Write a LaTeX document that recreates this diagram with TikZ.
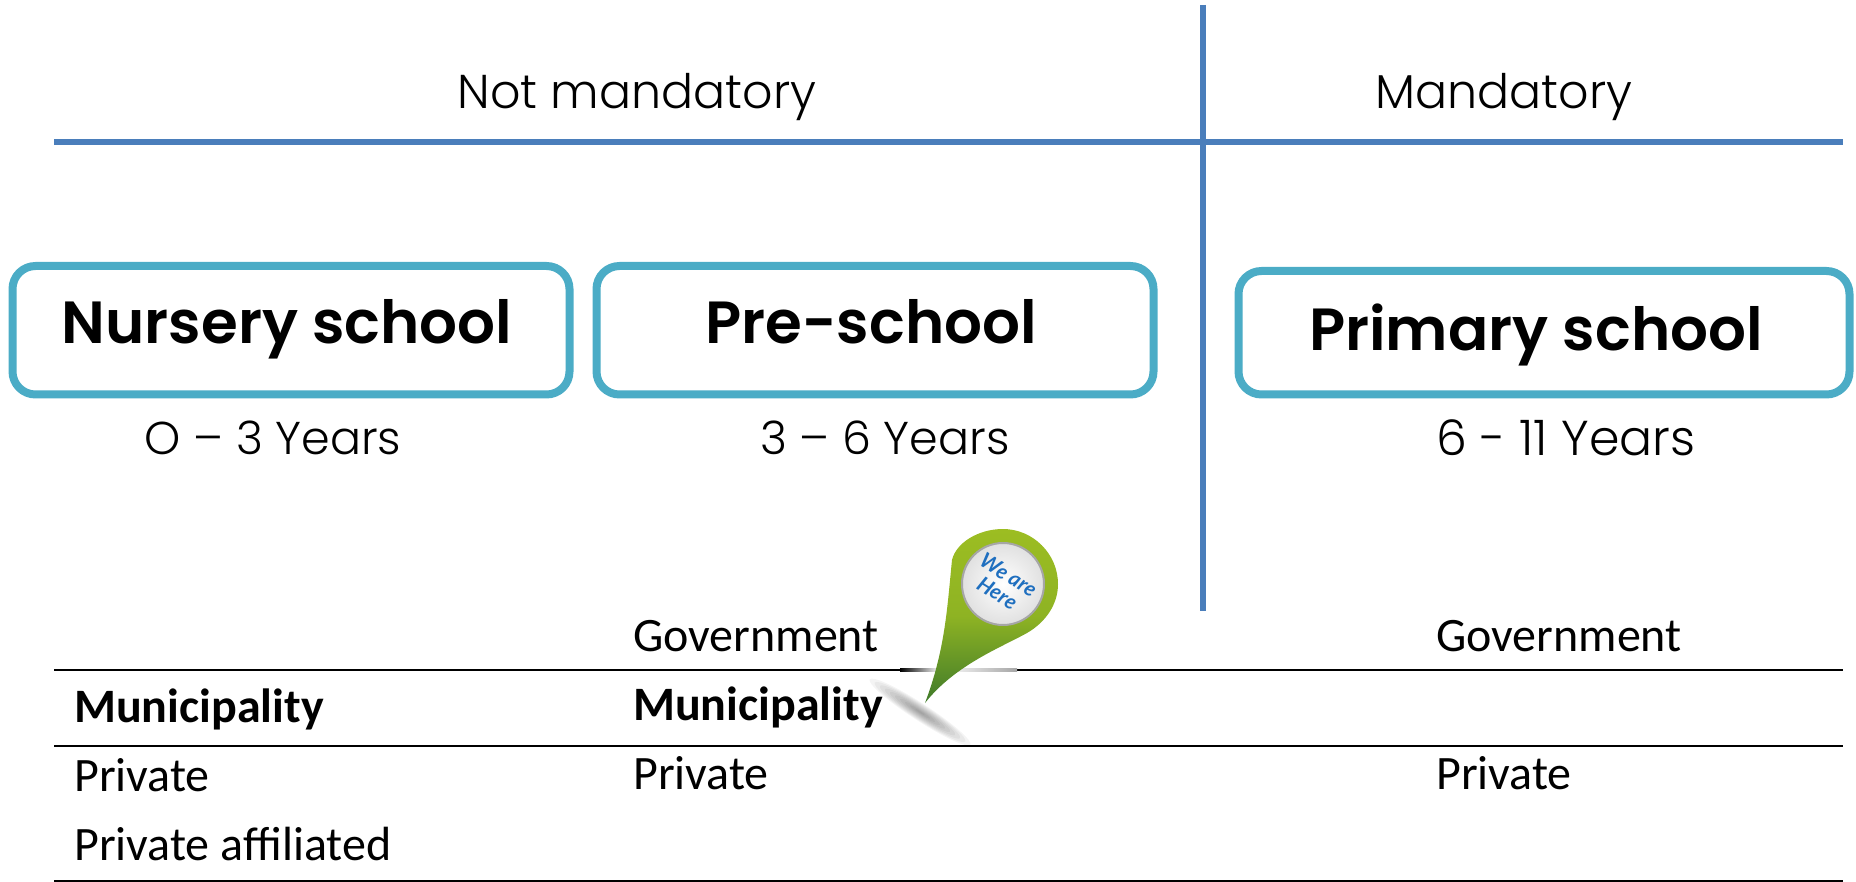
\documentclass[tikz,border=0pt]{standalone}
\usepackage{fontspec}
\setmainfont{Carlito}
\newfontfamily\gothlight{Poppins Light}
\newfontfamily\gothbold{Poppins SemiBold}
\newfontfamily\pinfont{Lato}
\definecolor{rulex}{HTML}{4A7EBB}
\definecolor{boxc}{HTML}{4BACC6}
\definecolor{pinlight}{HTML}{9CBD22}
\definecolor{pindark}{HTML}{3F7A2A}
\definecolor{pinblue}{HTML}{1F6FBF}
\tikzset{
  x=1pt,y=-1pt,
  bluerule/.style={draw=rulex,line width=5.2pt},
  blackrule/.style={draw=black,line width=2.8pt},
  schoolbox/.style={draw=boxc,line width=8pt,rounded corners=23pt,fill=white},
  schoollabel/.style={font=\gothbold\fontsize{59.5}{68}\selectfont,inner sep=0pt,anchor=base},
  headlabel/.style={font=\gothlight\fontsize{47.5}{56}\selectfont,inner sep=0pt,anchor=base},
  agelabel/.style={font=\gothlight\fontsize{46}{54}\selectfont,inner sep=0pt,anchor=base},
  agewide/.style={font=\gothlight\fontsize{49}{56}\selectfont,inner sep=0pt,anchor=base},
  rowlabel/.style={font=\fontsize{48}{56}\selectfont,inner sep=0pt,anchor=base west},
  rowbold/.style={font=\bfseries\fontsize{48}{56}\selectfont,inner sep=0pt,anchor=base west},
}
\begin{document}
\begin{tikzpicture}
\useasboundingbox (0,0) rectangle (1856,882);
% rules
\coordinate (vt) at (1203,5);
\coordinate (vb) at (1203,611);
\coordinate (hl) at (54,142);
\coordinate (hr) at (1843,142);
\draw[bluerule] (vt) -- (vb);
\draw[bluerule] (hl) -- (hr);
\coordinate (r1l) at (54,670); \coordinate (r1r) at (1843,670);
\coordinate (r2l) at (54,746); \coordinate (r2r) at (1843,746);
\coordinate (r3l) at (54,881); \coordinate (r3r) at (1843,881);
\draw[blackrule] (r1l) -- (r1r);
\draw[blackrule] (r2l) -- (r2r);
\draw[blackrule] (r3l) -- (r3r);
% headings
\node[headlabel] (nm) at (637,109) {Not mandatory};
\node[headlabel] (m) at (1504,109) {Mandatory};
% boxes
\draw[schoolbox] (12.5,266) rectangle (569.5,394.5);
\draw[schoolbox] (596.5,266) rectangle (1153.5,394.5);
\draw[schoolbox] (1238.5,271) rectangle (1849.5,394.5);
\node[schoollabel] (nur) at (287,344) {Nursery school};
\node[schoollabel] (pre) at (871,344) {Pre-school};
\node[schoollabel] (pri) at (1536,351) {Primary school};
% ages
\node[agelabel] (a1) at (273,455) {O – 3 Years};
\node[agelabel] (a2) at (885,455) {3 – 6 Years};
\node[agewide] (a3) at (1566,456) {6 - 11 Years};
% table
\node[rowlabel] (g2) at (633,651) {Government};
\node[rowlabel] (g3) at (1436,651) {Government};
\node[rowbold] (m1) at (74,722) {Municipality};
\node[rowbold] (m2) at (633,720) {Municipality};
\node[rowlabel] (p1) at (74,791) {Private};
\node[rowlabel] (p2) at (633,789) {Private};
\node[rowlabel] (p3) at (1436,789) {Private};
\node[rowlabel] (pa) at (74,860) {Private affiliated};
% faded stretch of the rule behind the pin
\shade[left color=black,right color=white] (900,668.4) rectangle (940,671.6);
\shade[left color=white,right color=black!35] (940,668.4) rectangle (1017,671.6);
% pin shadow
\begin{scope}[shift={(920,712)},rotate=-33]
\foreach \k in {1,...,10}
  \fill[black,opacity=.045] (0,0) ellipse ({6*\k} and {0.85*\k});
\end{scope}
% pin
\shade[top color=pinlight,bottom color=pindark,middle color=pinlight!85!pindark]
  (925,703) .. controls (945,650) and (947,610) .. (952,560)
  .. controls (956,543) and (978,529) .. (1003,529)
  .. controls (1033,529) and (1058,554) .. (1058,584)
  .. controls (1058,604) and (1046,622) .. (1027,633)
  .. controls (1000,648) and (955,665) .. (925,703) -- cycle;
\shade[inner color=white,outer color=black!12,draw=black!35,line width=2pt]
  (1003,584) circle (41);
\node[rotate=-32,font=\pinfont\bfseries\itshape\fontsize{21}{21}\selectfont,text=pinblue,align=center,inner sep=0pt] (we) at (1003,584) {We are\\Here};
\end{tikzpicture}
\end{document}
